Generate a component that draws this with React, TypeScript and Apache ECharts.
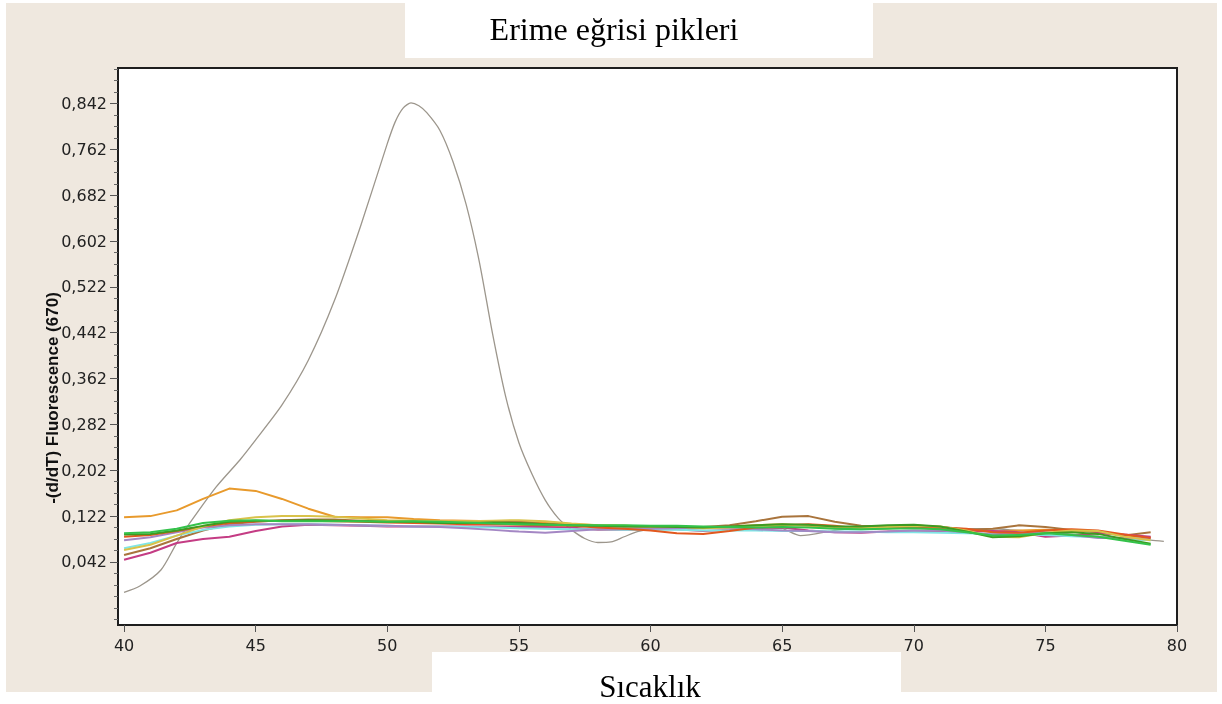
import React, { useEffect, useRef } from "react";
import * as echarts from "echarts";

// x positions (°C) for the flat curves
const temps = [40, 41, 42, 43, 44, 45, 46, 47, 48, 49, 50, 51, 52, 53, 54, 55, 56, 57, 58, 59, 60, 61, 62, 63, 64, 65, 66, 67, 68, 69, 70, 71, 72, 73, 74, 75, 76, 77, 78, 79];

// peak curve
const peakTemps = [40, 40.6, 41.4, 42, 42.5, 43.5, 44.4, 45, 46, 47, 48, 49, 50, 50.3, 50.6, 50.9, 51.2, 51.5, 52, 52.5, 53, 53.5, 54, 54.5, 55, 55.5, 56, 56.5, 57, 57.5, 58, 58.5, 59, 59.5, 60, 61, 62, 63, 64, 65, 65.7, 67, 68, 69, 70, 71, 72, 73, 74, 75, 76, 77, 78, 79, 79.5];
const peakValues = [-0.011, 0.0, 0.028, 0.075, 0.11, 0.173, 0.22, 0.255, 0.316, 0.394, 0.499, 0.63, 0.772, 0.81, 0.834, 0.843, 0.838, 0.826, 0.795, 0.74, 0.665, 0.565, 0.44, 0.33, 0.25, 0.195, 0.15, 0.118, 0.098, 0.083, 0.076, 0.077, 0.086, 0.095, 0.099, 0.102, 0.103, 0.104, 0.103, 0.1, 0.088, 0.097, 0.102, 0.104, 0.106, 0.104, 0.1, 0.1, 0.097, 0.095, 0.09, 0.087, 0.082, 0.08, 0.078];

const orangeValues = [0.120, 0.122, 0.132, 0.152, 0.170, 0.166, 0.152, 0.135, 0.121, 0.120, 0.120, 0.117, 0.115, 0.114, 0.113, 0.112, 0.110, 0.108, 0.106, 0.105, 0.104, 0.103, 0.101, 0.104, 0.106, 0.108, 0.105, 0.102, 0.102, 0.104, 0.106, 0.103, 0.098, 0.095, 0.097, 0.098, 0.097, 0.095, 0.088, 0.085];
const brownValues = [0.054, 0.066, 0.082, 0.097, 0.108, 0.112, 0.115, 0.116, 0.116, 0.114, 0.112, 0.112, 0.110, 0.112, 0.113, 0.112, 0.108, 0.106, 0.104, 0.104, 0.103, 0.102, 0.103, 0.106, 0.113, 0.121, 0.122, 0.112, 0.105, 0.104, 0.102, 0.100, 0.098, 0.100, 0.106, 0.103, 0.098, 0.094, 0.088, 0.094];
const darkGreenValues = [0.090, 0.091, 0.097, 0.105, 0.112, 0.114, 0.114, 0.115, 0.114, 0.113, 0.112, 0.112, 0.110, 0.110, 0.111, 0.110, 0.108, 0.106, 0.105, 0.104, 0.104, 0.103, 0.102, 0.104, 0.106, 0.108, 0.107, 0.104, 0.104, 0.106, 0.107, 0.104, 0.095, 0.085, 0.087, 0.092, 0.094, 0.091, 0.082, 0.074];
const greenValues = [0.092, 0.094, 0.100, 0.110, 0.114, 0.115, 0.113, 0.113, 0.113, 0.113, 0.112, 0.113, 0.112, 0.111, 0.109, 0.108, 0.107, 0.106, 0.106, 0.106, 0.105, 0.105, 0.104, 0.103, 0.102, 0.103, 0.102, 0.100, 0.099, 0.100, 0.101, 0.099, 0.094, 0.088, 0.089, 0.092, 0.089, 0.086, 0.079, 0.072];
const yellowValues = [0.063, 0.072, 0.088, 0.104, 0.115, 0.120, 0.122, 0.122, 0.121, 0.118, 0.115, 0.114, 0.113, 0.113, 0.114, 0.115, 0.113, 0.109, 0.106, 0.105, 0.104, 0.104, 0.101, 0.102, 0.104, 0.106, 0.106, 0.102, 0.101, 0.103, 0.105, 0.104, 0.097, 0.086, 0.085, 0.093, 0.097, 0.096, 0.086, 0.080];
const pinkValues = [0.046, 0.058, 0.075, 0.082, 0.086, 0.096, 0.104, 0.107, 0.106, 0.105, 0.104, 0.104, 0.104, 0.104, 0.104, 0.103, 0.103, 0.102, 0.098, 0.098, 0.099, 0.099, 0.096, 0.098, 0.101, 0.102, 0.097, 0.094, 0.093, 0.095, 0.096, 0.096, 0.095, 0.096, 0.094, 0.086, 0.088, 0.092, 0.090, 0.086];
const cyanValues = [0.066, 0.075, 0.088, 0.098, 0.104, 0.107, 0.108, 0.108, 0.107, 0.106, 0.105, 0.104, 0.104, 0.103, 0.102, 0.101, 0.100, 0.099, 0.099, 0.098, 0.098, 0.098, 0.097, 0.097, 0.097, 0.096, 0.096, 0.095, 0.095, 0.094, 0.094, 0.093, 0.092, 0.091, 0.090, 0.089, 0.087, 0.085, 0.082, 0.080];
const purpleValues = [0.080, 0.085, 0.094, 0.102, 0.106, 0.108, 0.108, 0.108, 0.107, 0.106, 0.105, 0.104, 0.103, 0.101, 0.098, 0.095, 0.093, 0.096, 0.099, 0.100, 0.100, 0.101, 0.102, 0.101, 0.099, 0.097, 0.096, 0.094, 0.094, 0.095, 0.097, 0.097, 0.094, 0.090, 0.093, 0.094, 0.089, 0.084, 0.084, 0.083];
const redValues = [0.086, 0.089, 0.096, 0.104, 0.110, 0.113, 0.114, 0.114, 0.113, 0.112, 0.111, 0.110, 0.109, 0.108, 0.108, 0.107, 0.106, 0.105, 0.102, 0.100, 0.097, 0.092, 0.091, 0.096, 0.102, 0.106, 0.108, 0.105, 0.100, 0.101, 0.103, 0.102, 0.100, 0.094, 0.093, 0.097, 0.099, 0.097, 0.090, 0.084];

const yTicks = [0.042, 0.122, 0.202, 0.282, 0.362, 0.442, 0.522, 0.602, 0.682, 0.762, 0.842];
const xTicks = [40, 45, 50, 55, 60, 65, 70, 75, 80];

const titleText = "Erime eğrisi pikleri";
const xTitle = "Sıcaklık";
const yTitle = "-(d/dT) Fluorescence (670)";

const flatSeries = [
  { name: "s1", color: "#e89a2c", values: orangeValues },
  { name: "s2", color: "#a9743c", values: brownValues },
  { name: "s3", color: "#c43c84", values: pinkValues },
  { name: "s4", color: "#7fe6e6", values: cyanValues },
  { name: "s5", color: "#a487c4", values: purpleValues },
  { name: "s6", color: "#e2581e", values: redValues },
  { name: "s7", color: "#d9c24a", values: yellowValues },
  { name: "s8", color: "#3d9a22", values: darkGreenValues },
  { name: "s9", color: "#33c24a", values: greenValues },
];

function minorTicks(): number[] {
  const out: number[] = [];
  const step = 0.02;
  for (let v = yTicks[0] - 5 * step; v < 0.905; v += step) {
    const r = Math.round(v * 1000) / 1000;
    if (!yTicks.some((t) => Math.abs(t - r) < 1e-6)) out.push(r);
  }
  return out;
}

export default function App() {
  const ref = useRef<HTMLDivElement>(null);
  useEffect(() => {
    const chart = echarts.init(ref.current!, null, { renderer: "svg" });
    const Y_MIN = -0.068;
    const Y_MAX = 0.904;
    const series: any[] = flatSeries.map((s) => ({
      name: s.name,
      type: "line",
      showSymbol: false,
      data: temps.map((t, i) => [t, s.values[i]]),
      lineStyle: { color: s.color, width: 2 },
      itemStyle: { color: s.color },
      z: 3,
    }));
    series.unshift({
      name: "peak",
      type: "line",
      showSymbol: false,
      smooth: 0.25,
      data: peakTemps.map((t, i) => [t, peakValues[i]]),
      lineStyle: { color: "#9c968c", width: 1.3 },
      itemStyle: { color: "#9c968c" },
      z: 2,
    });
    chart.setOption({
      animation: false,
      graphic: [
        { type: "rect", z: -10, shape: { x: 6, y: 3, width: 1211, height: 689 }, style: { fill: "#efe8df" } },
        { type: "rect", z: -9, shape: { x: 405, y: 0, width: 468, height: 58 }, style: { fill: "#ffffff" } },
        { type: "rect", z: -9, shape: { x: 432, y: 652, width: 469, height: 52 }, style: { fill: "#ffffff" } },
        {
          type: "text",
          z: 10,
          x: 614,
          y: 28.5,
          style: { text: titleText, font: "32px 'Liberation Serif', 'Times New Roman', serif", fill: "#000", textAlign: "center", textVerticalAlign: "middle" },
        },
        {
          type: "text",
          z: 10,
          x: 650,
          y: 686,
          style: { text: xTitle, font: "31px 'Liberation Serif', 'Times New Roman', serif", fill: "#000", textAlign: "center", textVerticalAlign: "middle" },
        },
        {
          type: "text",
          z: 10,
          x: 52,
          y: 398,
          rotation: Math.PI / 2,
          style: { text: yTitle, font: "bold 17px 'Liberation Sans', Arial, sans-serif", fill: "#111", textAlign: "center", textVerticalAlign: "middle" },
        },
      ],
      grid: {
        show: true,
        left: 118,
        top: 68,
        width: 1059,
        height: 557,
        backgroundColor: "#ffffff",
        borderColor: "#1e1e1e",
        borderWidth: 2,
        containLabel: false,
      },
      xAxis: {
        type: "value",
        min: 39.77,
        max: 80,
        axisLine: { show: false, onZero: false },
        splitLine: { show: false },
        axisTick: { show: true, length: 7, customValues: xTicks, lineStyle: { color: "#555" } },
        axisLabel: {
          customValues: xTicks,
          showMaxLabel: true,
          showMinLabel: true,
          margin: 12,
          fontFamily: "'DejaVu Sans', sans-serif",
          fontSize: 16,
          color: "#222",
        },
      },
      yAxis: [
        {
          type: "value",
          min: Y_MIN,
          max: Y_MAX,
          position: "left",
          axisLine: { show: false, onZero: false },
          splitLine: { show: false },
          axisTick: { show: true, length: 8, customValues: yTicks, lineStyle: { color: "#555" } },
          axisLabel: {
            customValues: yTicks,
            margin: 11,
            formatter: (v: number) => v.toFixed(3).replace(".", ","),
            fontFamily: "'DejaVu Sans', sans-serif",
            fontSize: 16,
            color: "#222",
          },
        },
        {
          type: "value",
          min: Y_MIN,
          max: Y_MAX,
          position: "left",
          axisLine: { show: false, onZero: false },
          splitLine: { show: false },
          axisTick: { show: true, length: 4, customValues: minorTicks(), lineStyle: { color: "#666" } },
          axisLabel: { show: false },
        },
      ],
      series,
    });
    return () => chart.dispose();
  }, []);
  return <div ref={ref} style={{ position: "fixed", left: 0, top: 0, width: 1222, height: 704 }} />;
}
